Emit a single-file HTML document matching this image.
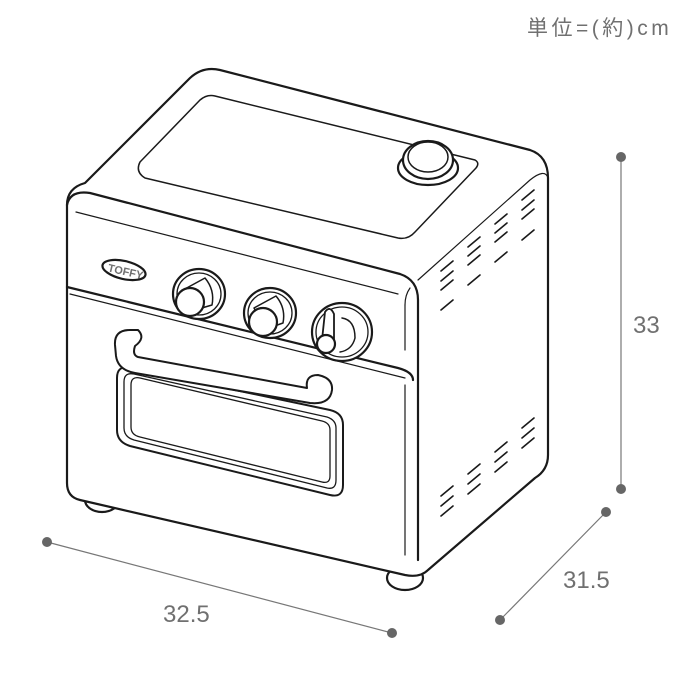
<!DOCTYPE html>
<html><head><meta charset="utf-8"><style>
html,body{margin:0;padding:0;background:#fff;width:700px;height:700px;overflow:hidden}
svg{display:block}
text{font-family:"Liberation Sans","Noto Sans CJK JP",sans-serif;fill:#707070}
</style></head><body>
<svg width="700" height="700" viewBox="0 0 700 700">
<text x="527" y="35" font-size="21" letter-spacing="3.5">単位=(約)cm</text>
<g stroke="#777" stroke-width="1.2" fill="none">
<line x1="47" y1="542" x2="392" y2="633"/>
<line x1="621" y1="157" x2="621" y2="489"/>
<line x1="606" y1="512" x2="500" y2="620"/>
</g>
<g fill="#666">
<circle cx="47" cy="542" r="5"/><circle cx="392" cy="633" r="5"/>
<circle cx="621" cy="157" r="5"/><circle cx="621" cy="489" r="5"/>
<circle cx="606" cy="512" r="5"/><circle cx="500" cy="620" r="5"/>
</g>
<text x="163" y="622" font-size="24">32.5</text>
<text x="633" y="333" font-size="24">33</text>
<text x="563" y="588" font-size="24">31.5</text>

<g stroke="#1a1a1a" stroke-width="2.2" fill="#fff" stroke-linejoin="round" stroke-linecap="round">
<ellipse cx="102" cy="500" rx="17" ry="12"/>
<ellipse cx="405" cy="578" rx="18" ry="12"/>
<ellipse cx="510" cy="480" rx="17" ry="12"/>
<path d="M67,205 Q67,188 85,183 L190,78 Q203,66 220,70 L530,150 Q548,156 548,178 L548,455 Q548,470 535,478 L428,570 Q420,578 405,575 L80,500 Q67,497 67,483 Z"/>
<path d="M67,205 Q70,190 90,193 L400,274 Q418,280 418,300 L418,560" fill="none"/>
<path d="M418,280 L530,180 Q545,168 548,178" fill="none" stroke-width="1.2"/>
<path d="M76,212 L398,294" fill="none" stroke-width="1.2"/>
<path d="M410,288 Q405,295 405,305" fill="none" stroke-width="1.2"/>
<line x1="405" y1="305" x2="405" y2="350" stroke-width="1.2"/>
<line x1="405" y1="385" x2="405" y2="555" stroke-width="1.2"/>
<path d="M67,287 L398,368 Q413,372 413,380" fill="none"/>
<path d="M70,294 L405,378" fill="none" stroke-width="1.2"/>
<path d="M140,162 L200,100 Q207,94 215,96 L475,160 Q480,163 476,168 L415,232 Q408,240 398,238 L145,178 Q135,172 140,162 Z" stroke-width="1.5"/>
<ellipse cx="428" cy="168" rx="30" ry="17"/>
<ellipse cx="428" cy="160" rx="25" ry="19"/>
<ellipse cx="428" cy="157" rx="20" ry="15" stroke-width="1.5"/>
<ellipse cx="124" cy="270" rx="22" ry="9" transform="rotate(13 124 270)"/>
<text x="108" y="275" font-size="11" fill="#222" stroke="none" transform="rotate(13 124 270)" font-weight="bold">TOFFY</text>
<ellipse cx="199" cy="294" rx="26" ry="25"/>
<ellipse cx="199" cy="294" rx="22" ry="21" stroke-width="1.3"/>
<path d="M183,290 L205,278 Q215,290 212,305 L195,310 Z" stroke-width="1.5"/>
<ellipse cx="190" cy="302" rx="14" ry="14"/>
<ellipse cx="270" cy="313" rx="26" ry="25"/>
<ellipse cx="270" cy="313" rx="22" ry="21" stroke-width="1.3"/>
<path d="M254,308 L276,296 Q286,308 283,323 L266,329 Z" stroke-width="1.5"/>
<ellipse cx="263" cy="322" rx="14" ry="14"/>
<ellipse cx="342" cy="332" rx="30" ry="29"/>
<ellipse cx="342" cy="332" rx="26" ry="25" stroke-width="1.3"/>
<path d="M342,318 Q355,320 355,338 Q352,350 340,352" stroke-width="1.5"/>
<path d="M322,340 L325,312 Q330,305 334,314 L334,340" stroke-width="1.8"/>
<ellipse cx="326" cy="344" rx="9" ry="9"/>
<path d="M130,368 Q117,365 117,378 L117,430 Q117,442 130,446 L330,495 Q343,498 343,485 L343,425 Q343,413 330,410 Z" stroke-width="2"/>
<path d="M134,374 Q124,372 124,382 L124,428 Q124,437 134,440 L327,488 Q336,490 336,480 L336,428 Q336,420 327,417 Z" fill="none" stroke-width="1.3"/>
<path d="M140,378 Q131,376 131,385 L131,427 Q131,435 140,437 L322,482 Q330,484 330,476 L330,430 Q330,423 322,421 Z" fill="none" stroke-width="1.3"/>
<path d="M130,330 Q114,330 115,345 L116,356 Q118,370 135,373 L310,403 Q330,405 332,390 Q333,378 318,375 Q305,375 307,388 L138,357 Q132,355 135,346 Q146,338 138,330 Z" stroke-width="2"/>
<g fill="none" stroke-width="1.6">
<path d="M468,247 l12,-10 M468,256 l12,-10 M441,271 l12,-10 M441,281 l12,-10 M441,290 l12,-10 M495,224 l12,-10 M495,233 l12,-10 M495,242 l12,-10 M522,200 l12,-10 M522,210 l12,-10 M522,219 l12,-10 M468,265 l12,-10"/>
<path d="M441,310 l12,-10 M468,285 l12,-10 M495,262 l12,-10 M522,240 l12,-10"/>
<path d="M441,496 l12,-10 M441,506 l12,-10 M441,516 l12,-10 M468,474 l12,-10 M468,484 l12,-10 M468,494 l12,-10 M495,452 l12,-10 M495,462 l12,-10 M495,472 l12,-10 M522,428 l12,-10 M522,438 l12,-10 M522,448 l12,-10"/>
</g>
</g>
</svg>
</body></html>
